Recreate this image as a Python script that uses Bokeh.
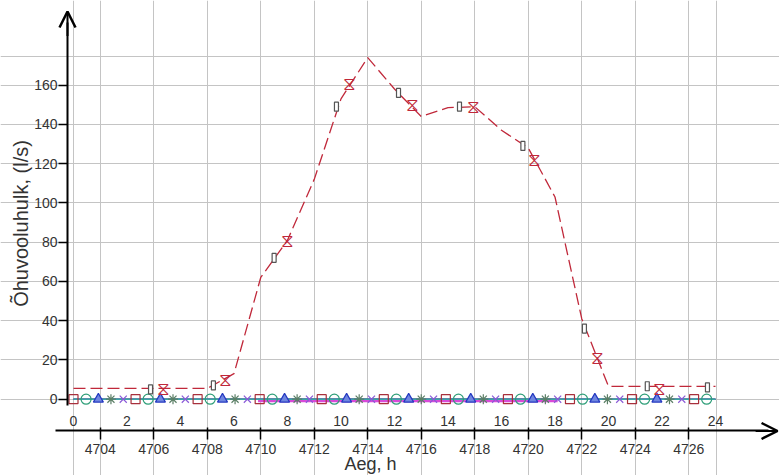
import math

from bokeh.plotting import figure
from bokeh.models import Range1d, LinearAxis, FixedTicker, Grid, Arrow, OpenHead, Label, ColumnDataSource
from bokeh.core.properties import value
from bokeh.embed import file_html
from bokeh.resources import INLINE

# ---------------- data ----------------
# absolute hour counter that corresponds to hour 0 of the day
HOUR0 = 4703

# main air-flow curve (l/s), one value per hour
hours = [0, 1, 2, 3, 4, 5, 6, 7, 8, 9, 10, 11, 12,
         13, 14, 15, 16, 17, 18, 19, 20, 21, 22, 23, 24]
airflow = [5.5, 5.5, 5.5, 5.5, 5.5, 5.5, 13, 62, 81, 112, 153, 174, 158,
           144, 148.5, 149, 137, 128, 103, 41, 6.5, 6.5, 6.5, 6.5, 6.5]

# marker points of the two air-flow series that follow the curve
rect_h = [2.88, 5.23, 7.5, 9.83, 12.15, 14.43, 16.8, 19.1, 21.45, 23.7]
rect_v = [5, 7, 72, 149, 156, 149, 129, 36, 6.6, 6]
glass_h = [3.36, 5.68, 8.0, 10.3, 12.67, 14.95, 17.23, 19.6, 21.9]
glass_v = [5.6, 10, 81, 161, 150, 149, 122, 21, 5.6]

# series that stay at zero for the whole day
zero_line_h = [0, 24]
zero_line_v = [0, 0]
square_h = [0, 2.32, 4.64, 6.96, 9.28, 11.6, 13.92, 16.24, 18.56, 20.88, 23.2]
square_v = [0, 0, 0, 0, 0, 0, 0, 0, 0, 0, 0]
circle_h = [0.47, 2.79, 5.11, 7.43, 9.75, 12.07, 14.39, 16.71, 19.03, 21.35, 23.67]
circle_v = [0, 0, 0, 0, 0, 0, 0, 0, 0, 0, 0]
triangle_h = [0.93, 3.25, 5.57, 7.89, 10.21, 12.53, 14.85, 17.17, 19.49, 21.81]
triangle_v = [0, 0, 0, 0, 0, 0, 0, 0, 0, 0]
star_h = [1.4, 3.72, 6.04, 8.36, 10.68, 13.0, 15.32, 17.64, 19.96, 22.28]
star_v = [0, 0, 0, 0, 0, 0, 0, 0, 0, 0]
cross_h = [1.86, 4.18, 6.5, 8.82, 11.14, 13.46, 15.78, 18.1, 20.42, 22.74]
cross_v = [0, 0, 0, 0, 0, 0, 0, 0, 0, 0]
pink_h = [6.9, 18.1]
pink_v = [-0.7, -0.7]

# axis ticks
hour_ticks = [0, 2, 4, 6, 8, 10, 12, 14, 16, 18, 20, 22, 24]
abs_ticks = [4704, 4706, 4708, 4710, 4712, 4714, 4716, 4718, 4720, 4722, 4724, 4726]
flow_ticks = [0, 20, 40, 60, 80, 100, 120, 140, 160]

x_title = "Aeg, h"
y_title = "Õhuvooluhulk, (l/s)"

# ---------------- layout constants (data units) ----------------
X_START, X_END = -2.729, 26.393        # whole canvas width
Y_START, Y_END = -38.87, 203.1         # whole canvas height
GRID_LEFT, GRID_RIGHT = 0, 24.05       # gridded area
GRID_BOTTOM, GRID_TOP = -2.7, 174.5
Y_AXIS_AT = -0.224                     # vertical axis, just left of the grid
HOUR_AXIS_AT = GRID_BOTTOM             # hour-of-day labels under the grid
ABS_AXIS_AT = -16.2                    # absolute-hour axis line

FONT = "Liberation Sans"
TEXT = "#333333"
GRID = "#c4c4c4"

p = figure(width=779, height=475,
           x_range=Range1d(X_START, X_END), y_range=Range1d(Y_START, Y_END),
           x_axis_type=None, y_axis_type=None,
           output_backend="svg", toolbar_location=None,
           min_border=0, outline_line_color=None,
           background_fill_color="white", border_fill_color="white")
p.extra_x_ranges = {"abs": Range1d(HOUR0 + X_START, HOUR0 + X_END)}

# grid: vertical lines follow the absolute-hour ticks, plus the plot border
vgrid_ticks = [GRID_LEFT] + [t - HOUR0 for t in abs_ticks] + [GRID_RIGHT]
p.add_layout(Grid(dimension=0, ticker=FixedTicker(ticks=vgrid_ticks),
                  bounds=(GRID_BOTTOM, GRID_TOP),
                  grid_line_color=GRID, grid_line_width=1))
p.add_layout(Grid(dimension=1, ticker=FixedTicker(ticks=flow_ticks + [GRID_TOP]),
                  bounds=(GRID_LEFT, GRID_RIGHT),
                  grid_line_color=GRID, grid_line_width=1))

label_style = dict(major_label_text_font=FONT, major_label_text_font_size="14px",
                   major_label_text_color=TEXT)

# y axis with an arrow on top
yaxis = LinearAxis(ticker=FixedTicker(ticks=flow_ticks), bounds=(-3.3, 192),
                   fixed_location=Y_AXIS_AT,
                   axis_line_color="black", axis_line_width=2,
                   major_tick_line_color="black", major_tick_line_width=1.5,
                   major_tick_in=0, major_tick_out=9,
                   minor_tick_line_color=None,
                   major_label_standoff=1, **label_style)
p.add_layout(yaxis, "left")

# hour-of-day labels (0..24) just under the grid
hour_axis = LinearAxis(ticker=FixedTicker(ticks=hour_ticks),
                       fixed_location=HOUR_AXIS_AT,
                       axis_line_color=None, major_tick_line_color=None,
                       minor_tick_line_color=None,
                       major_tick_in=0, major_tick_out=0,
                       major_label_standoff=12, **label_style)
p.add_layout(hour_axis, "below")

# absolute hour axis with an arrow on the right
abs_axis = LinearAxis(x_range_name="abs", ticker=FixedTicker(ticks=abs_ticks),
                      fixed_location=ABS_AXIS_AT,
                      bounds=(HOUR0 - 0.67, HOUR0 + 26.0),
                      axis_line_color="black", axis_line_width=2,
                      major_tick_line_color="black", major_tick_line_width=1.5,
                      major_tick_in=3, major_tick_out=9,
                      minor_tick_line_color=None,
                      major_label_standoff=4, **label_style)
p.add_layout(abs_axis, "below")

head = dict(size=16, line_width=2.5, line_color="black")
p.add_layout(Arrow(start=None, end=OpenHead(**head),
                   x_start=Y_AXIS_AT, y_start=185, x_end=Y_AXIS_AT, y_end=197.5,
                   line_color="black", line_width=2))
p.add_layout(Arrow(start=None, end=OpenHead(**head), x_range_name="abs",
                   x_start=HOUR0 + 25.5, y_start=ABS_AXIS_AT, x_end=HOUR0 + 26.32, y_end=ABS_AXIS_AT,
                   line_color="black", line_width=2))

p.add_layout(Label(x=11.1, y=-33.0, text=x_title, text_align="center", text_baseline="middle",
                   text_font=FONT, text_font_size="18px", text_color=TEXT))
p.add_layout(Label(x=-1.944, y=89.5, text=y_title, angle=math.pi / 2,
                   text_align="center", text_baseline="middle",
                   text_font=FONT, text_font_size="20px", text_color=TEXT))

# ---------------- series ----------------
RED = "#c0283a"
MAROON = "#a8303c"
GREEN = "#2e9e78"
BLUE = "#2438c0"
STAR = "#5b7f66"
VIOLET = "#8a5ad8"
PINK = "#d94ad9"

p.line(pink_h, pink_v, line_color=PINK, line_width=3.5)
p.line(zero_line_h, zero_line_v, line_color=MAROON, line_width=1)
p.line(zero_line_h, zero_line_v, line_color=VIOLET, line_width=1)
p.line(zero_line_h, zero_line_v, line_color=STAR, line_width=1)
p.line(zero_line_h, zero_line_v, line_color=BLUE, line_width=1)
p.line(zero_line_h, zero_line_v, line_color="#3aa6a6", line_width=1.5)

p.scatter(square_h, square_v, marker="square", size=9, line_color=MAROON, fill_color=None, line_width=1.2)
p.scatter(circle_h, circle_v, marker="circle", size=10, line_color=GREEN, fill_color=None, line_width=1.2)
p.scatter(triangle_h, triangle_v, marker="triangle", size=10, line_color=BLUE, fill_color="#6f86e0", line_width=1.2)
p.scatter(star_h, star_v, marker="asterisk", size=10, line_color=STAR, line_width=1.2)
p.scatter(cross_h, cross_v, marker="x", size=10, line_color=VIOLET, line_width=1.2)

p.line(hours, airflow, line_color=RED, line_width=1.3, line_dash="12 5")

p.rect(rect_h, rect_v, width=4, height=9, width_units="screen", height_units="screen",
       line_color="#555555", fill_color="white", line_width=1.2)

glass_src = ColumnDataSource(dict(x=glass_h, y=glass_v, t=["⧖"] * len(glass_h)))
p.text(x="x", y="y", text="t", source=glass_src, text_align="center", text_baseline="middle",
       text_font=value("DejaVu Sans"), text_font_size="18px", text_color=RED)

open("out.html", "w").write(file_html(p, INLINE))
